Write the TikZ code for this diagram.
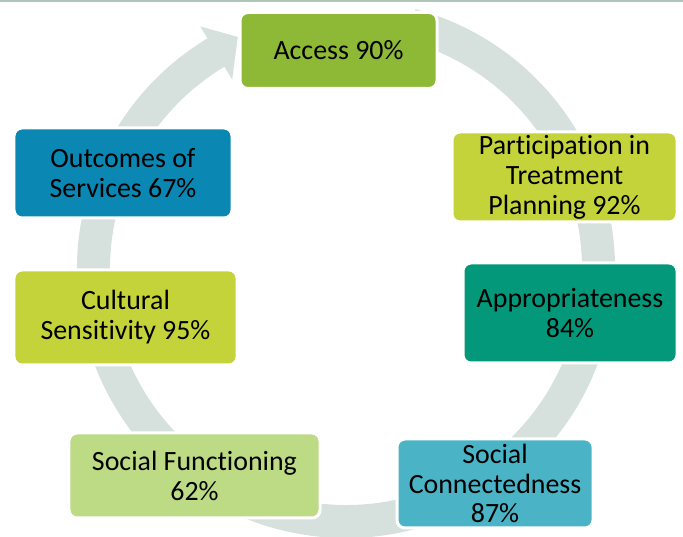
\documentclass[tikz,border=0pt]{standalone}
\usepackage{fontspec}
\setmainfont[Ligatures=NoCommon]{Carlito}
\usepackage{tikz}
\usetikzlibrary{calc, positioning}
\definecolor{ringcolor}{RGB}{214, 225, 221}
\definecolor{rulecolor}{RGB}{175, 197, 185}
\definecolor{accesscolor}{RGB}{141, 185, 54}
\definecolor{limecolor}{RGB}{197, 211, 59}
\definecolor{tealcolor}{RGB}{3, 152, 122}
\definecolor{aquacolor}{RGB}{74, 180, 198}
\definecolor{palegreen}{RGB}{189, 219, 133}
\definecolor{bluecolor}{RGB}{10, 135, 178}

\begin{document}
\begin{tikzpicture}[x=1bp, y=1bp,
    stagebox/.style={draw=white, line width=3bp, rounded corners=8bp, align=center,
        inner sep=2bp, font=\fontsize{28}{30}\selectfont}]
    \useasboundingbox (0,0) rectangle (683,537);

    % Rule along the top edge
    \fill[rulecolor] (0,534.5) rectangle (683,537);

    % Cycle arrow behind the boxes
    \coordinate (hub) at (346,268);
    \fill[ringcolor] ($(hub)+(75:269)$) arc[start angle=75, end angle=-239, radius=269]
        -- ($(hub)+(121:283)$) -- ($(hub)+(115:256)$) -- ($(hub)+(121:221)$)
        -- ($(hub)+(121:236)$) arc[start angle=-239, end angle=75, radius=236] -- cycle;

    % Stages
    \node[stagebox, fill=accesscolor, minimum width=197bp, minimum height=76bp] (access) at (338.5,486.5) {Access 90\%};
    \node[stagebox, fill=limecolor, minimum width=225bp, minimum height=90bp] (planning) at (564.5,360) {Participation in\\Treatment\\Planning 92\%};
    \node[stagebox, fill=tealcolor, minimum width=214bp, minimum height=100bp] (approp) at (570,224) {Appropriateness\\84\%};
    \node[stagebox, fill=aquacolor, minimum width=196bp, minimum height=89bp] (connect) at (495,53.5) {Social\\Connectedness\\87\%};
    \node[stagebox, fill=palegreen, minimum width=251bp, minimum height=85bp] (functioning) at (194.5,61.5) {Social Functioning\\62\%};
    \node[stagebox, fill=limecolor, minimum width=223bp, minimum height=95bp] (cultural) at (125.5,219.5) {Cultural\\Sensitivity 95\%};
    \node[stagebox, fill=bluecolor, minimum width=218bp, minimum height=90bp] (outcomes) at (123,364) {Outcomes of\\Services 67\%};

\end{tikzpicture}
\end{document}
